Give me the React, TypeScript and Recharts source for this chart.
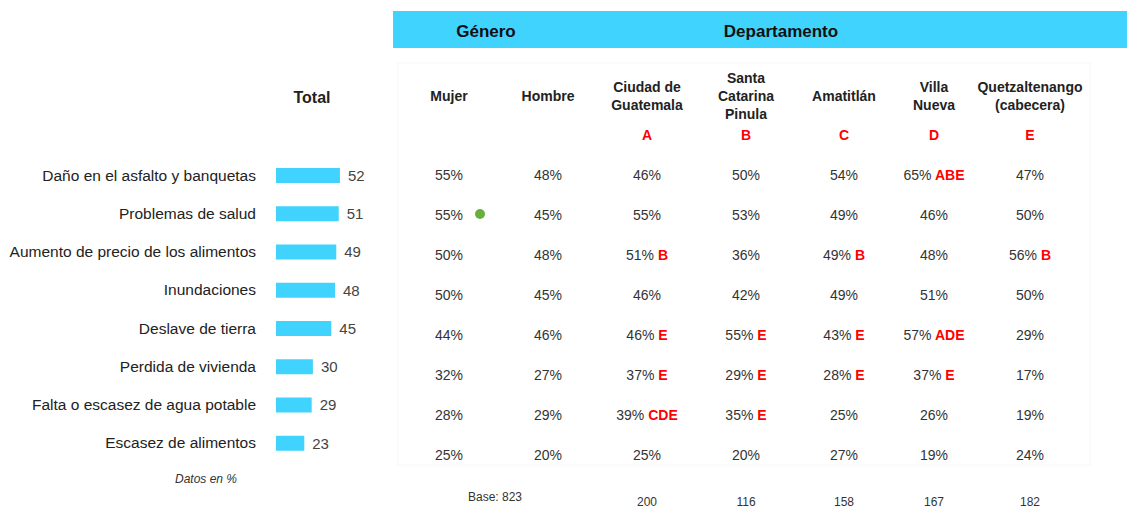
import { Bar, BarChart, Customized, LabelList, XAxis, YAxis } from "recharts";

const CATEGORIES = [
  "Daño en el asfalto y banquetas",
  "Problemas de salud",
  "Aumento de precio de los alimentos",
  "Inundaciones",
  "Deslave de tierra",
  "Perdida de vivienda",
  "Falta o escasez de agua potable",
  "Escasez de alimentos",
];
const TOTALS = [52, 51, 49, 48, 45, 30, 29, 23];

const COLUMN_HEADERS = [
  ["Mujer"],
  ["Hombre"],
  ["Ciudad de", "Guatemala"],
  ["Santa", "Catarina", "Pinula"],
  ["Amatitlán"],
  ["Villa", "Nueva"],
  ["Quetzaltenango", "(cabecera)"],
];
const COLUMN_LETTERS = ["", "", "A", "B", "C", "D", "E"];
const MUJER = [55, 55, 50, 50, 44, 32, 28, 25];
const HOMBRE = [48, 45, 48, 45, 46, 27, 29, 20];
const CIUDAD = [46, 55, 51, 46, 46, 37, 39, 25];
const SANTA_CATARINA = [50, 53, 36, 42, 55, 29, 35, 20];
const AMATITLAN = [54, 49, 49, 49, 43, 28, 25, 27];
const VILLA_NUEVA = [65, 46, 48, 51, 57, 37, 26, 19];
const QUETZALTENANGO = [47, 50, 56, 50, 29, 17, 19, 24];
const SIG_CIUDAD = ["", "", "B", "", "E", "E", "CDE", ""];
const SIG_SANTA = ["", "", "", "", "E", "E", "E", ""];
const SIG_AMATITLAN = ["", "", "B", "", "E", "E", "", ""];
const SIG_VILLA = ["ABE", "", "", "", "ADE", "E", "", ""];
const SIG_QUETZ = ["", "", "B", "", "", "", "", ""];
const BASES = ["", "", "200", "116", "158", "167", "182"];
const BASE_TOTAL = 823;

const columnValues = [MUJER, HOMBRE, CIUDAD, SANTA_CATARINA, AMATITLAN, VILLA_NUEVA, QUETZALTENANGO];
const columnSig = [[], [], SIG_CIUDAD, SIG_SANTA, SIG_AMATITLAN, SIG_VILLA, SIG_QUETZ];

const data = CATEGORIES.map((name, i) => ({ name, total: TOTALS[i] }));

const FONT = "'Liberation Sans', Arial, sans-serif";
const BLUE = "#40D3FD";
const COL_X = [449, 548, 647, 746, 844, 934, 1030];
const ROW_Y0 = 175;
const ROW_STEP = 40;

function Table() {
  return (
    <g fontFamily={FONT}>
      <rect x={393} y={11} width={734} height={37} fill={BLUE} />
      <text x={486} y={37} textAnchor="middle" fontSize={17} fontWeight="bold" fill="#111">Género</text>
      <text x={781} y={37} textAnchor="middle" fontSize={17} fontWeight="bold" fill="#111">Departamento</text>
      <rect x={398} y={63} width={692} height={402} fill="#fff" stroke="#f8f8f8" />
      <text x={312} y={103} textAnchor="middle" fontSize={16} fontWeight="bold" fill="#222">Total</text>
      {COLUMN_HEADERS.map((lines, c) => {
        const start = 101 - ((lines.length - 1) * 18) / 2;
        return (
          <g key={c}>
            {lines.map((ln, k) => (
              <text key={k} x={COL_X[c]} y={start + k * 18} textAnchor="middle" fontSize={14} fontWeight="bold" fill="#222">
                {ln}
              </text>
            ))}
            {COLUMN_LETTERS[c] && (
              <text x={COL_X[c]} y={140} textAnchor="middle" fontSize={14} fontWeight="bold" fill="#ff0000">
                {COLUMN_LETTERS[c]}
              </text>
            )}
          </g>
        );
      })}
      {columnValues.map((vals, c) =>
        vals.map((v, r) => {
          const sig = columnSig[c][r] || "";
          return (
            <text key={`${c}-${r}`} x={COL_X[c]} y={ROW_Y0 + r * ROW_STEP + 5} textAnchor="middle" fontSize={14} fill="#333">
              {`${v}%`}
              {sig && (
                <tspan fill="#ff0000" fontWeight="bold">{` ${sig}`}</tspan>
              )}
            </text>
          );
        })
      )}
      <circle cx={480} cy={214} r={5} fill="#6aaf3d" />
      <text x={206} y={483} textAnchor="middle" fontSize={12} fontStyle="italic" fill="#333">Datos en %</text>
      <text x={495} y={501} textAnchor="middle" fontSize={12} fill="#333">{`Base: ${BASE_TOTAL}`}</text>
      {BASES.map((b, c) =>
        b ? (
          <text key={c} x={COL_X[c]} y={506} textAnchor="middle" fontSize={12} fill="#333">{b}</text>
        ) : null
      )}
    </g>
  );
}

export default function App() {
  return (
    <div style={{ position: "absolute", left: 0, top: 0, width: 1127, height: 512, background: "#fff" }}>
      <BarChart
        width={1127}
        height={512}
        data={data}
        layout="vertical"
        margin={{ top: 156, right: 728, bottom: 50, left: 0 }}
      >
        <Customized component={Table} />
        <XAxis type="number" domain={[0, 100]} hide />
        <YAxis
          type="category"
          dataKey="name"
          width={276}
          axisLine={false}
          tickLine={false}
          tickSize={0}
          tickMargin={20}
          interval={0}
          tick={{ fill: "#222", fontSize: 15.5, fontFamily: FONT }}
        />
        <Bar dataKey="total" fill={BLUE} barSize={15} isAnimationActive={false}>
          <LabelList dataKey="total" position="right" offset={8} fill="#444" fontSize={15} fontFamily={FONT} />
        </Bar>
      </BarChart>
    </div>
  );
}
